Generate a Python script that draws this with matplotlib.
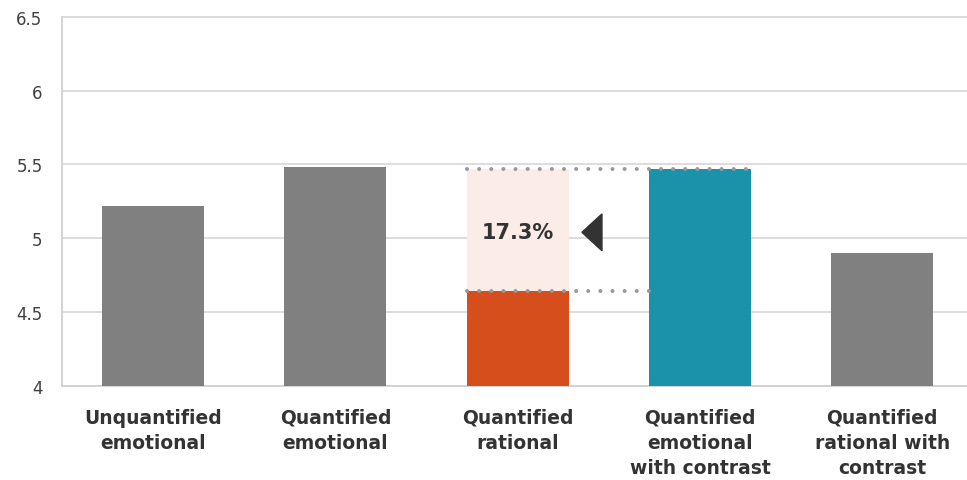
import matplotlib
matplotlib.use("Agg")
import matplotlib.pyplot as plt
from matplotlib.patches import Polygon

# Mean scores per message variant
categories = [
    "Unquantified\nemotional",
    "Quantified\nemotional",
    "Quantified\nrational",
    "Quantified\nemotional\nwith contrast",
    "Quantified\nrational with\ncontrast",
]
scores = [5.22, 5.48, 4.64, 5.47, 4.90]
uplift_label = "17.3%"
y_ticks = [4, 4.5, 5, 5.5, 6, 6.5]
y_tick_labels = ["4", "4.5", "5", "5.5", "6", "6.5"]

bar_colors = ["#808080", "#808080", "#D54E1C", "#1B92AA", "#808080"]
band_color = "#FBECE7"
grid_color = "#D3D3D3"
dot_color = "#999999"
text_color = "#333333"
bar_width = 0.56

plt.rcParams["font.family"] = ["DejaVu Sans"]

W, H = 967, 481
fig = plt.figure(figsize=(W / 100, H / 100), dpi=100)
ax = fig.add_axes([62 / W, 94.3 / H, 911.5 / W, 368.7 / H])

x = list(range(len(categories)))
ax.bar(x, scores, width=bar_width, color=bar_colors, zorder=3)

# Highlight the gap between the rational bar and the contrast bar
low, high = scores[2], scores[3]
ax.bar(2, high - low, bottom=low, width=bar_width, color=band_color, zorder=2)

dot_style = dict(color=dot_color, linewidth=2.9, linestyle=(0, (0.01, 3.0)),
                 dash_capstyle="round", zorder=4)
ax.plot([2 - bar_width / 2, 3 + bar_width / 2], [high, high], **dot_style)
ax.plot([2 - bar_width / 2, 3 - bar_width / 2], [low, low], **dot_style)

mid = (low + high) / 2
tip_x = 2 + bar_width / 2 + 0.072
base_x = tip_x + 0.11
half_h = 0.125
ax.add_patch(Polygon([[tip_x, mid - 0.015], [base_x, mid + half_h - 0.015],
                      [base_x, mid - half_h - 0.015]],
                     closed=True, color=text_color, zorder=5))
ax.text(2, mid - 0.015, uplift_label, ha="center", va="center", fontsize=15,
        fontweight="bold", color=text_color, zorder=5)

ax.set_xlim(-0.5, len(categories) - 0.5)
ax.set_ylim(y_ticks[0], y_ticks[-1])
ax.set_yticks(y_ticks)
ax.set_yticklabels(y_tick_labels)
ax.set_xticks(x)
ax.set_xticklabels(categories, fontsize=13.5, fontweight="bold",
                   color=text_color, linespacing=1.4)

ax.yaxis.grid(True, color=grid_color, linewidth=1.1, zorder=0)
for gl in ax.get_ygridlines():
    gl.set_clip_on(False)
ax.set_axisbelow(True)
for side in ("top", "right"):
    ax.spines[side].set_visible(False)
for side in ("left", "bottom"):
    ax.spines[side].set_color(grid_color)
    ax.spines[side].set_linewidth(1.4)

ax.tick_params(axis="y", length=0, labelsize=12, labelcolor="#404040", pad=14)
ax.tick_params(axis="x", length=0, pad=16)

fig.savefig("out.png", dpi=100)
